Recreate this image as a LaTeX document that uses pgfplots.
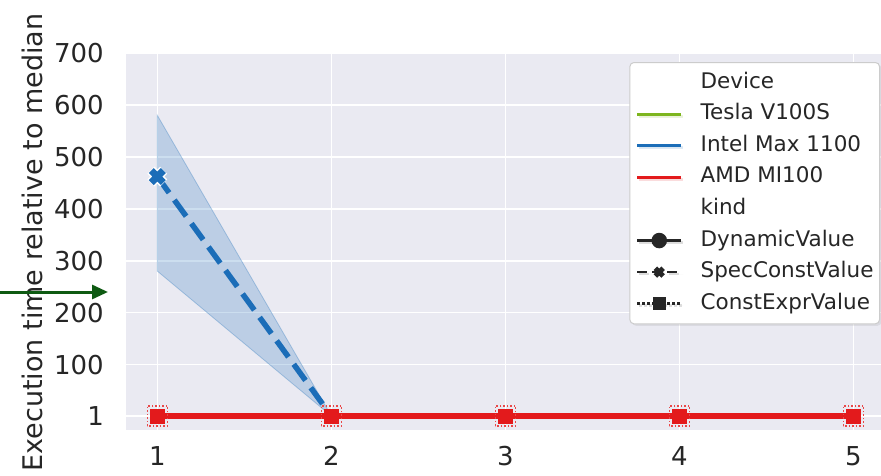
\documentclass[border=0pt]{standalone}
\usepackage{fontspec}
\setmainfont{DejaVu Sans}
\usepackage{pgfplots}
\pgfplotsset{compat=1.18}
\usetikzlibrary{arrows.meta,shadows}
\definecolor{bg}{HTML}{EAEAF2}
\definecolor{cgreen}{HTML}{7DB51E}
\definecolor{cblue}{HTML}{1B6DB8}
\definecolor{cred}{HTML}{E31A1C}
\definecolor{txt}{HTML}{262626}
\definecolor{arrowgreen}{HTML}{0E5A12}
\definecolor{legborder}{HTML}{CCCCCC}

\begin{document}
\begin{tikzpicture}[x=1pt,y=1pt]
\useasboundingbox (0,0) rectangle (881,475);
\begin{axis}[
  at={(126pt,45pt)}, anchor=south west,
  scale only axis, width=755.2pt, height=377pt,
  xmin=0.82, xmax=5.16, ymin=-26, ymax=700,
  xtick={1,2,3,4,5}, ytick={1,100,200,300,400,500,600,700},
  grid=major, grid style={white, line width=1.6pt},
  axis background/.style={fill=bg},
  axis line style={draw=none},
  major tick length=0pt,
  tick label style={font=\fontsize{26}{30}\selectfont, text=txt},
  /pgf/number format/assume math mode=true,
  xticklabel style={anchor=north, inner sep=0pt, yshift=-16pt},
  yticklabel style={anchor=east, inner sep=0pt, xshift=-22pt},
  ylabel={Execution time relative to median},
  every axis y label/.style={at={(axis description cs:-0.1112,0.497)}, anchor=base, rotate=90, font=\fontsize{27}{32}\selectfont, text=txt},
  legend style={at={(axis description cs:0.9984,0.976)}, anchor=north east,
    draw=legborder, line width=1pt, rounded corners=4pt, fill=white,
    drop shadow={opacity=0.15, shadow xshift=2pt, shadow yshift=-2pt},
    inner xsep=6pt, inner ysep=10pt,
    font=\fontsize{21.5}{25}\selectfont, text=txt,
    row sep=11.6pt, column sep=18pt,
    nodes={inner sep=0pt, text height=15.5pt, text depth=4.5pt}},
  legend cell align=left,
  legend image code/.code={\draw[mark repeat=2,mark phase=2,#1] plot coordinates {(0pt,0pt) (22pt,0pt) (44pt,0pt)};},
]
% confidence band of Intel Max 1100 / SpecConstValue
\addplot[fill=cblue, fill opacity=0.22, draw=cblue, draw opacity=0.3, line width=0.8pt, forget plot]
  coordinates {(1,580) (2,1) (3,1) (4,1) (5,1) (5,1) (4,1) (3,1) (2,1) (1,280)} -- cycle;
% Tesla V100S (hidden below)
\addplot[cgreen, line width=6pt, forget plot] coordinates {(1,1) (2,1) (3,1) (4,1) (5,1)};
% Intel Max 1100 SpecConstValue
\addplot[cblue, line width=5.5pt, dash pattern=on 20pt off 9pt, forget plot]
  coordinates {(1,462) (2,1) (3,1) (4,1) (5,1)};
\addplot[only marks, mark=x, mark size=9pt, mark options={white, line width=10pt, solid}, forget plot]
  coordinates {(1,462)};
\addplot[only marks, mark=x, mark size=8.5pt, mark options={cblue, line width=7pt, solid}, forget plot]
  coordinates {(1,462)};
% AMD MI100
\addplot[cred, line width=6pt, forget plot] coordinates {(1,1) (2,1) (3,1) (4,1) (5,1)};
\addplot[only marks, mark=square, mark size=10pt, mark options={draw=cred!80!white, line width=1.5pt, dotted, rounded corners=4pt}, forget plot]
  coordinates {(1,1) (2,1) (3,1) (4,1) (5,1)};
\addplot[only marks, mark=square*, mark size=7pt, mark options={fill=cred, draw=cred, solid}, forget plot]
  coordinates {(1,1) (2,1) (3,1) (4,1) (5,1)};
% legend
\addlegendimage{empty legend}
\addlegendentry{Device}
\addlegendimage{cgreen, line width=2.8pt}
\addlegendentry{Tesla V100S}
\addlegendimage{cblue, line width=2.8pt}
\addlegendentry{Intel Max 1100}
\addlegendimage{cred, line width=2.8pt}
\addlegendentry{AMD MI100}
\addlegendimage{empty legend}
\addlegendentry{kind}
\addlegendimage{black!85, line width=2.5pt, mark=*, mark size=6.5pt, mark options={solid}}
\addlegendentry{DynamicValue}
\addlegendimage{black!85, line width=2.5pt, dash pattern=on 10pt off 5pt, mark=x, mark size=5.5pt, mark options={solid, line width=5pt}}
\addlegendentry{SpecConstValue}
\addlegendimage{black!85, line width=2.5pt, dash pattern=on 2.5pt off 2.5pt, mark=square*, mark size=5.5pt, mark options={solid}}
\addlegendentry{ConstExprValue}
\end{axis}
\draw[arrowgreen, line width=3pt, -{Triangle[length=16pt,width=14pt]}] (0,183) -- (108,183);
\end{tikzpicture}
\end{document}
